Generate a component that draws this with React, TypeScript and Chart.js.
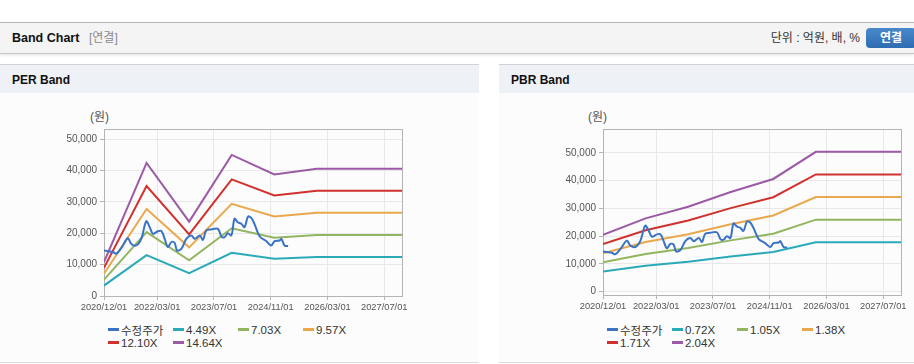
import React, { useEffect, useRef } from "react";
import { Chart, registerables } from "chart.js";

Chart.register(...registerables);

// ---- Data ----
// x positions are months since 2020/12/01
const xTickMonths = [0, 15, 31, 47, 63, 79];
const xTickLabels = ["2020/12/01", "2022/03/01", "2023/07/01", "2024/11/01", "2026/03/01", "2027/07/01"];
const yTickValues = [0, 10000, 20000, 30000, 40000, 50000];

const bandMonths = [0, 12, 24, 36, 48, 60, 84];

const priceMonths = [
  0, 1, 2.5, 3.5, 5, 6.7, 7.7, 9.1, 10.5, 11.9, 12.9, 13.8, 15.2, 16.2, 17.1, 18.0, 19.0, 19.9,
  20.6, 21.8, 23.2, 24.6, 25.6, 27.0, 27.9, 28.8, 30.2, 32.1, 33.1, 34.0, 34.9, 35.9, 36.8, 37.7,
  38.7, 39.6, 40.6, 41.5, 42.4, 43.9, 45.7, 47.1, 48.1, 49.5, 50.0, 50.9, 51.9,
];
const priceValues = [
  14500, 14300, 14000, 13500, 15500, 18400, 16600, 16100, 18200, 23800, 21900, 19800, 20650, 20650,
  18200, 15600, 17200, 16950, 14500, 15000, 18200, 19300, 18200, 19300, 17900, 20850, 21200, 21400,
  18950, 18750, 20000, 19300, 24600, 23500, 23000, 21900, 25300, 24900, 23000, 18950, 17500, 16100,
  17500, 17700, 18200, 16100, 15900,
];

const perLabels = ["수정주가", "4.49X", "7.03X", "9.57X", "12.10X", "14.64X"];
const per449 = [3320, 13000, 7270, 13780, 11880, 12440, 12440];
const per703 = [5200, 20360, 11390, 21580, 18590, 19470, 19470];
const per957 = [7080, 27710, 15500, 29380, 25310, 26510, 26510];
const per1210 = [8950, 35040, 19600, 37150, 32000, 33520, 33520];
const per1464 = [10830, 42400, 23700, 44950, 38720, 40550, 40550];

const pbrLabels = ["수정주가", "0.72X", "1.05X", "1.38X", "1.71X", "2.04X"];
const pbr072 = [7240, 9320, 10800, 12670, 14330, 17780, 17780];
const pbr105 = [10550, 13600, 15750, 18480, 20900, 25940, 25940];
const pbr138 = [13870, 17870, 20700, 24290, 27460, 34090, 34090];
const pbr171 = [17190, 22140, 25650, 30100, 34030, 42240, 42240];
const pbr204 = [20500, 26420, 30600, 35900, 40600, 50390, 50390];

const seriesColors = ["#3a72c6", "#2aaab8", "#92b55f", "#eaa84c", "#d0312d", "#9b59a6"];

const FONT = '"Liberation Sans", Arial, "Noto Sans CJK KR", sans-serif';

const toPoints = (xs: number[], ys: number[]) => xs.map((x, i) => ({ x, y: ys[i] }));

const boxPlugin = {
  id: "plotBox",
  beforeDatasetsDraw(chart: any) {
    const { ctx, chartArea } = chart;
    ctx.save();
    ctx.strokeStyle = "#b4b4b4";
    ctx.lineWidth = 1;
    ctx.strokeRect(
      Math.round(chartArea.left) + 0.5,
      Math.round(chartArea.top) + 0.5,
      Math.round(chartArea.right - chartArea.left),
      Math.round(chartArea.bottom - chartArea.top)
    );
    ctx.restore();
  },
};

type BandProps = {
  left: number;
  top: number;
  width: number;
  height: number;
  yMin: number;
  yMax: number;
  padTop: number;
  padRight: number;
  yAxisWidth: number;
  xAxisHeight: number;
  bands: number[][];
  labels: string[];
};

function BandCanvas(p: BandProps) {
  const ref = useRef<HTMLCanvasElement | null>(null);
  useEffect(() => {
    if (!ref.current) return;
    const datasets: any[] = [
      {
        label: p.labels[0],
        data: toPoints(priceMonths, priceValues),
        borderColor: seriesColors[0],
        backgroundColor: seriesColors[0],
        borderWidth: 2,
        pointRadius: 0,
        tension: 0.35,
        order: 0,
      },
    ];
    p.bands.forEach((b, i) => {
      datasets.push({
        label: p.labels[i + 1],
        data: toPoints(bandMonths, b),
        borderColor: seriesColors[i + 1],
        backgroundColor: seriesColors[i + 1],
        borderWidth: 2,
        pointRadius: 0,
        tension: 0,
        order: 1,
      });
    });
    const chart = new Chart(ref.current, {
      type: "line",
      data: { datasets },
      plugins: [boxPlugin],
      options: {
        responsive: false,
        animation: false,
        devicePixelRatio: 1,
        layout: { padding: { top: p.padTop, right: p.padRight, left: 0, bottom: 0 } },
        plugins: { legend: { display: false }, tooltip: { enabled: false } },
        scales: {
          x: {
            type: "linear",
            min: 0,
            max: 84,
            afterBuildTicks: (s: any) => {
              s.ticks = xTickMonths.map((v) => ({ value: v }));
            },
            afterFit: (s: any) => {
              s.height = p.xAxisHeight;
            },
            grid: { color: "#e8e8e8", tickColor: "#b4b4b4", tickLength: 4 },
            border: { color: "#b4b4b4" },
            ticks: {
              autoSkip: false,
              maxRotation: 0,
              padding: 2,
              color: "#555",
              font: { family: FONT, size: 9.3 },
              callback: (_v: any, i: number) => xTickLabels[i],
            },
          },
          y: {
            type: "linear",
            min: p.yMin,
            max: p.yMax,
            afterBuildTicks: (s: any) => {
              s.ticks = yTickValues.map((v) => ({ value: v }));
            },
            afterFit: (s: any) => {
              s.width = p.yAxisWidth;
            },
            grid: { color: "#e8e8e8", tickColor: "#b4b4b4", tickLength: 4 },
            border: { color: "#b4b4b4" },
            ticks: {
              padding: 3,
              color: "#555",
              font: { family: FONT, size: 10 },
              callback: (v: any) => Number(v).toLocaleString("en-US"),
            },
          },
        },
      } as any,
    });
    return () => chart.destroy();
  }, []);
  return (
    <canvas
      ref={ref}
      width={p.width}
      height={p.height}
      style={{ position: "absolute", left: p.left, top: p.top, width: p.width, height: p.height, display: "block" }}
    />
  );
}

function Legend({ left, top, labels }: { left: number; top: number; labels: string[] }) {
  return (
    <>
      {labels.map((lab, i) => {
        const col = i % 4;
        const row = Math.floor(i / 4);
        return (
          <div
            key={lab}
            style={{
              position: "absolute",
              left: left + col * 65,
              top: top + row * 13,
              height: 13,
              display: "flex",
              alignItems: "center",
              whiteSpace: "nowrap",
              fontSize: 11.5,
              color: "#333",
              fontFamily: FONT,
            }}
          >
            <span style={{ display: "inline-block", width: 11, height: 3, background: seriesColors[i], marginRight: 2 }} />
            <span>{lab}</span>
          </div>
        );
      })}
    </>
  );
}

function Panel({ left, width, title }: { left: number; width: number; title: string }) {
  return (
    <>
      <div
        style={{
          position: "absolute",
          left,
          top: 64,
          width,
          height: 29,
          boxSizing: "border-box",
          borderTop: "1px solid #d2d2d2",
          background: "#eef2f7",
        }}
      >
        <div
          style={{
            position: "absolute",
            left: 12,
            top: 7,
            fontSize: 12,
            fontWeight: "bold",
            color: "#111",
            lineHeight: "16px",
          }}
        >
          {title}
        </div>
      </div>
      <div
        style={{
          position: "absolute",
          left,
          top: 93,
          width,
          height: 270,
          boxSizing: "border-box",
          background: "#fcfcfc",
          borderBottom: "1px solid #dcdcdc",
        }}
      />
    </>
  );
}

export default function App() {
  return (
    <div
      style={{
        position: "absolute",
        left: 0,
        top: 0,
        width: 914,
        height: 364,
        overflow: "hidden",
        background: "#fff",
        fontFamily: FONT,
      }}
    >
      {/* top header bar */}
      <div
        style={{
          position: "absolute",
          left: 0,
          top: 22,
          width: 914,
          height: 32,
          boxSizing: "border-box",
          background: "#f4f4f4",
          borderTop: "1px solid #b8b8b8",
          borderBottom: "1px solid #c6c6c6",
          boxShadow: "0 1px 3px rgba(0,0,0,0.12)",
        }}
      >
        <div style={{ position: "absolute", left: 12, top: 7, fontSize: 12.5, fontWeight: "bold", color: "#111", lineHeight: "16px" }}>
          Band Chart
        </div>
        <div style={{ position: "absolute", left: 89, top: 7, fontSize: 12, color: "#8a8a8a", lineHeight: "16px" }}>[연결]</div>
        <div style={{ position: "absolute", right: 54, top: 7, fontSize: 12, color: "#333", lineHeight: "16px" }}>
          단위 : 억원, 배, %
        </div>
        <div
          style={{
            position: "absolute",
            left: 866,
            top: 5,
            width: 50,
            height: 20,
            borderRadius: 4,
            background: "linear-gradient(#4a88cc, #2f6db3)",
            color: "#fff",
            fontSize: 12,
            fontWeight: "bold",
            lineHeight: "20px",
            textAlign: "center",
          }}
        >
          연결
        </div>
      </div>

      <Panel left={0} width={479} title="PER Band" />
      <Panel left={499} width={415} title="PBR Band" />

      {/* PER chart */}
      <div style={{ position: "absolute", left: 90, top: 110, fontSize: 12, color: "#555", lineHeight: "15px" }}>(원)</div>
      <BandCanvas
        left={40}
        top={120}
        width={380}
        height={200}
        yMin={0}
        yMax={53200}
        padTop={8}
        padRight={18}
        yAxisWidth={64}
        xAxisHeight={24}
        bands={[per449, per703, per957, per1210, per1464]}
        labels={perLabels}
      />
      <Legend left={108} top={323} labels={perLabels} />

      {/* PBR chart */}
      <div style={{ position: "absolute", left: 588, top: 110, fontSize: 12, color: "#555", lineHeight: "15px" }}>(원)</div>
      <BandCanvas
        left={539}
        top={120}
        width={375}
        height={200}
        yMin={-1200}
        yMax={58600}
        padTop={8}
        padRight={13}
        yAxisWidth={64}
        xAxisHeight={25}
        bands={[pbr072, pbr105, pbr138, pbr171, pbr204]}
        labels={pbrLabels}
      />
      <Legend left={607} top={323} labels={pbrLabels} />
    </div>
  );
}
